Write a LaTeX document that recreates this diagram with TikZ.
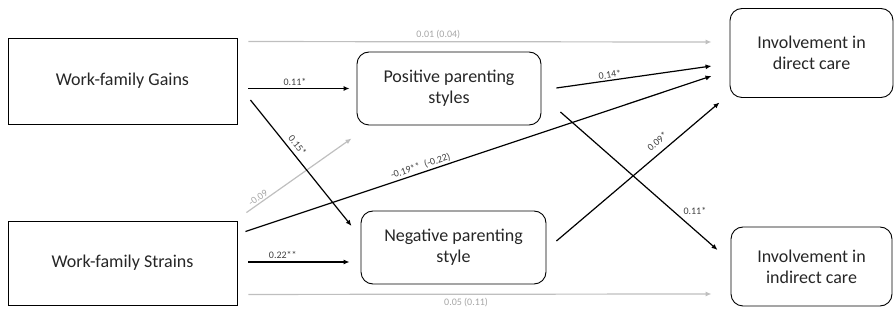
\documentclass[tikz,border=0pt]{standalone}
\usepackage{fontspec}
\setmainfont{Carlito}
\usetikzlibrary{arrows.meta,calc}
\definecolor{txt}{HTML}{262626}
\definecolor{lgray}{HTML}{BFBFBF}
\definecolor{lbl}{HTML}{404040}
\definecolor{glbl}{HTML}{A6A6A6}
\tikzset{
  sqbox/.style={draw=black, line width=0.9pt, text=txt, align=center, font=\fontsize{18}{21}\selectfont, inner sep=0pt},
  rbox/.style={sqbox, rounded corners=12pt},
  arr/.style={draw=black, line width=1.2pt, -{Latex[length=6pt,width=5pt]}},
  garr/.style={draw=lgray, line width=1.2pt, -{Latex[length=6pt,width=5pt]}},
  lab/.style={font=\fontsize{10}{12}\selectfont, text=lbl, inner sep=1.5pt},
  glab/.style={font=\fontsize{10}{12}\selectfont, text=glbl, inner sep=1.5pt}
}
\begin{document}
\begin{tikzpicture}[x=1pt,y=-1pt]
\useasboundingbox (0,0) rectangle (895,320);
\node[sqbox, minimum width=229pt, minimum height=86pt] (wfg) at (122.5,81) {Work-family Gains};
\node[sqbox, minimum width=229pt, minimum height=84pt] (wfs) at (122.5,263) {Work-family Strains};
\node[rbox, minimum width=184pt, minimum height=73pt] (pps) at (449,88.5) {Positive parenting\\styles};
\node[rbox, minimum width=185pt, minimum height=73pt] (nps) at (453.5,247.5) {Negative parenting\\style};
\node[rbox, minimum width=163pt, minimum height=89pt] (idc) at (811.5,53) {Involvement in\\direct care};
\node[rbox, minimum width=161pt, minimum height=79pt] (iic) at (811.5,266.5) {Involvement in\\indirect care};

% gray direct paths
\draw[garr] ($(wfg.north east)+(11,4)$) -- node[glab, pos=0.41, above, yshift=1pt] {0.01 (0.04)} ($(idc.west)+(-18,-11)$);
\draw[garr] ($(wfs.south east)+(11,-11)$) -- node[glab, pos=0.47, below, yshift=-2pt] {0.05 (0.11)} ($(iic.west)+(-19,27.5)$);
\draw[garr] ($(wfs.north east)+(9,-8)$) -- node[glab, pos=0.14, above, sloped] {-0.09} ($(pps.south west)+(-5,13)$);

% black paths
\draw[arr] ($(wfg.east)+(11,7.5)$) -- node[lab, pos=0.46, above, yshift=1pt] {0.11*} ($(pps.west)+(-7,0)$);
\draw[arr] ($(wfg.east)+(13,19)$) -- node[lab, pos=0.4, above, sloped, yshift=3pt] {0.15*} ($(nps.west)+(-9,-21.5)$);
\draw[arr] ($(wfs.north east)+(8,11)$) -- node[lab, pos=0.38, above, sloped] {-0.19**\ \ (-0.22)} ($(idc.west)+(-18,23)$);
\draw[arr] ($(wfs.east)+(11,-1)$) -- node[lab, pos=0.34, above, yshift=1pt] {0.22**} ($(nps.west)+(-11,14.5)$);
\draw[arr] ($(pps.east)+(15,-0.5)$) -- node[lab, pos=0.35, above, sloped] {0.14*} ($(idc.west)+(-18,13)$);
\draw[arr] ($(pps.east)+(19,23.5)$) -- node[lab, pos=0.77, anchor=south west, yshift=2pt] {0.11*} ($(iic.west)+(-13,-16.5)$);
\draw[arr] ($(nps.east)+(10,-6.5)$) -- node[lab, pos=0.66, above, sloped, yshift=5pt] {0.09*} ($(idc.south west)+(-10,4.5)$);
\end{tikzpicture}
\end{document}
